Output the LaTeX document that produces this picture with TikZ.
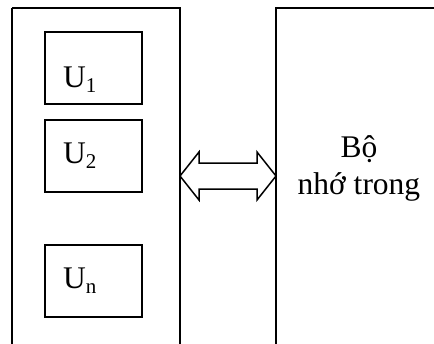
\documentclass[tikz,border=0pt]{standalone}
\usepackage{fontspec}
\setmainfont{Liberation Serif}
\begin{document}
\begin{tikzpicture}[x=1pt,y=-1pt,
  frame/.style={line width=1.5pt},
  unitbox/.style={draw,line width=1.5pt,minimum width=97pt,minimum height=72pt,inner sep=0pt},
  unitlabel/.style={anchor=base west,inner sep=0pt,font=\fontsize{31.5}{36}\selectfont},
  memlabel/.style={align=center,inner sep=0pt,font=\fontsize{31.5}{37}\selectfont},
  bus/.style={line width=1.5pt,line join=miter}]
\useasboundingbox (0,0) rectangle (434,343);
\newcommand{\unitsub}[1]{\raisebox{-5pt}{\fontsize{21}{21}\selectfont #1}}

% processor frame, open at the bottom
\coordinate (cpuTL) at (12,8);
\coordinate (cpuTR) at (180,8);
\draw[frame] (cpuTL) |- (cpuTR) -- (180,350);
\draw[frame] (cpuTL) -- (12,350);

% internal memory frame, open at the right and bottom
\coordinate (memTL) at (276,8);
\draw[frame] (276,350) -- (memTL) -- (440,8);

% units inside the processor
\node[unitbox] (u1) at (93.5,68) {};
\node[unitbox] (u2) at (93.5,156) {};
\node[unitbox] (un) at (93.5,281) {};
\node[unitlabel] (u1t) at (63,87) {U\unitsub{1}};
\node[unitlabel] (u2t) at (63,163) {U\unitsub{2}};
\node[unitlabel] (unt) at (63,288) {U\unitsub{n}};

% memory label (base anchor sits on the last line)
\node[memlabel,anchor=base] (mem) at (359,194) {Bộ\\nhớ trong};

% double-headed block arrow between processor and memory
\coordinate (busL) at (180,176);
\coordinate (busR) at (276,176);
\draw[bus] (busL) -- ++(19,-24) -- ++(0,11) -- ++(58,0) -- ++(0,-11)
  -- (busR) -- ++(-19,24) -- ++(0,-11) -- ++(-58,0) -- ++(0,11) -- cycle;
\end{tikzpicture}
\end{document}
